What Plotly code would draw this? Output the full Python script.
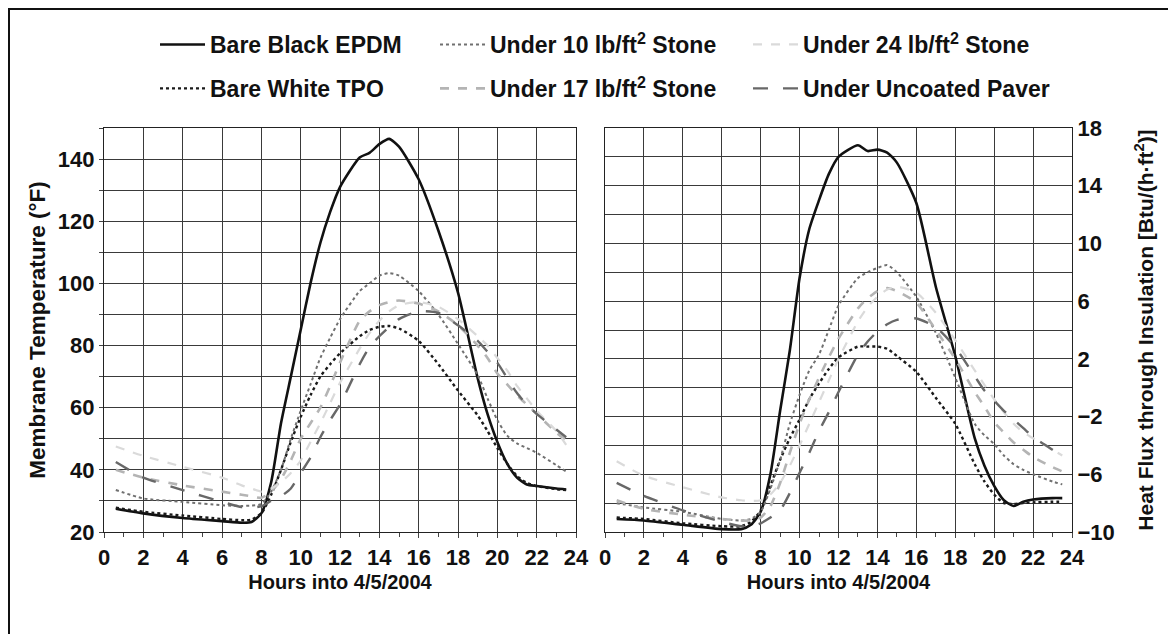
import plotly.graph_objects as go

# ---------------- data ----------------
HOURS = [0.6, 2, 4, 6, 7, 7.5, 8, 8.5, 9, 9.5, 10, 10.5, 11, 11.5, 12, 13, 13.5, 14,
         14.5, 15, 16, 17, 18, 19, 19.5, 20, 20.5, 21, 21.5, 22, 23, 23.5]

SERIES_NAMES = ["Bare Black EPDM", "Bare White TPO", "Under 10 lb/ft<sup>2</sup> Stone",
                "Under 17 lb/ft<sup>2</sup> Stone", "Under 24 lb/ft<sup>2</sup> Stone",
                "Under Uncoated Paver"]

# Membrane temperature (deg F)
temp_epdm = [27.5, 26, 24.5, 23.5, 23, 23.2, 26, 36, 55, 70, 85, 100, 113, 123, 131, 140.5, 142,
             144.8, 146.5, 144, 133.5, 117, 97, 69.5, 58, 49, 42, 37.5, 35.3, 34.8, 34, 33.7]
temp_tpo = [27.8, 26.5, 25.3, 24.2, 23.8, 24, 26, 32, 40, 49, 57, 64, 70, 74, 77.5, 83, 85, 86,
            86.3, 85.5, 81.5, 74, 65.5, 57.5, 52.5, 47, 42, 38, 35.8, 34.8, 33.8, 33.5]
temp_10 = [33.5, 30.8, 29.7, 28.6, 28.4, 28.5, 29, 33, 40, 50, 59, 67.5, 76, 82.5, 88.5, 97.5, 100,
           102.5, 103.3, 102.5, 97.5, 90, 80.5, 70.5, 63, 56, 51, 48.5, 47, 45.5, 41.5, 39.5]
temp_17 = [40, 37.5, 35, 33, 32, 31.5, 31, 33, 37, 43, 50, 55, 60, 67, 74.5, 88, 91, 93, 94, 94.5,
           93.5, 91, 86.5, 80, 76, 71, 67.5, 64, 61, 58, 52, 49.5]
temp_24 = [47.5, 44.5, 41, 37.5, 35, 34, 33, 34, 36, 39, 43, 49, 55, 61.5, 68, 79, 84, 88, 91, 93,
           94, 92.5, 88.5, 83, 80, 76, 72, 67, 63, 59, 52.5, 48]
temp_paver = [42.5, 37.5, 33.5, 29.7, 28, 27.8, 28.3, 30, 31.5, 34, 39, 44, 50.5, 56, 61, 74, 79.5,
              83, 86, 88.5, 91, 90.5, 86.5, 81.5, 78, 74.5, 69.5, 64.7, 61, 58, 53, 50.5]

# Heat flux through insulation (Btu/(h ft2))
flux_epdm = [-9.1, -9.2, -9.5, -9.8, -9.8, -9.5, -8.6, -6, -1.6, 2.6, 7.6, 11, 13, 14.8, 16, 16.8,
             16.4, 16.5, 16.3, 15.6, 12.8, 7, 2.2, -3.5, -5.4, -6.8, -7.8, -8.2, -7.9, -7.75, -7.65, -7.65]
flux_tpo = [-9.0, -9.1, -9.4, -9.6, -9.6, -9.3, -8.5, -6.8, -5, -3.5, -2.2, -0.8, 0.3, 1.3, 2.1, 2.85,
            2.85, 2.85, 2.7, 2.2, 1.1, -0.7, -2.5, -5.3, -6.5, -7.4, -8, -8.05, -8, -7.95, -7.9, -7.9]
flux_10 = [-8.0, -8.3, -8.6, -9.1, -9.2, -9.1, -8.6, -7, -5, -2.5, -0.5, 1.2, 2.3, 4, 5.7, 7.6, 8,
           8.3, 8.5, 8.0, 6.3, 3.8, 0.7, -2.5, -3.3, -3.9, -4.7, -5.3, -5.7, -6, -6.5, -6.7]
flux_17 = [-7.8, -8.4, -8.8, -9.1, -9.2, -9.2, -9.0, -8.2, -6.6, -4.5, -2.5, -0.8, 0.7, 2.1, 3.4, 5.5,
           6.2, 6.7, 6.9, 6.7, 5.9, 4.0, 2.0, -0.3, -1.3, -2.4, -3.1, -3.8, -4.3, -4.8, -5.5, -5.8]
flux_24 = [-5.1, -6.1, -6.9, -7.6, -7.8, -7.85, -7.8, -7.4, -6.6, -5.4, -4, -2.5, -1, 0.5, 2, 4.6,
           5.6, 6.3, 6.8, 7, 6.6, 5.2, 3.3, 1.2, 0.2, -0.8, -1.7, -2.5, -3.1, -3.5, -4.3, -4.7]
flux_paver = [-6.6, -7.5, -8.5, -9.3, -9.6, -9.6, -9.4, -9.0, -8.5, -7.3, -5.9, -4.5, -3, -1.7, -0.3,
              2.3, 3.2, 3.9, 4.4, 4.7, 4.8, 4.2, 2.8, 0.8, -0.2, -0.9, -1.6, -2.2, -2.8, -3.4, -4.3, -4.8]

TEMP = [temp_epdm, temp_tpo, temp_10, temp_17, temp_24, temp_paver]
FLUX = [flux_epdm, flux_tpo, flux_10, flux_17, flux_24, flux_paver]

# small ticks along the left edge of the heat-flux panel
FLUX_SIDE_TICKS = [-9, -7, -5, -3, -1, 1, 3, 5, 7, 9, 11, 13, 15, 17]

# ---------------- styles ----------------
STYLES = [
    dict(color="#111111", width=2.6, dash="solid"),
    dict(color="#1a1a1a", width=2.4, dash="dot"),
    dict(color="#707070", width=2.0, dash="dot"),
    dict(color="#b4b4b4", width=2.6, dash="dash"),
    dict(color="#dadada", width=2.2, dash="dash"),
    dict(color="#686868", width=2.4, dash="longdash"),
]
LEGEND_OF = ["legend", "legend", "legend2", "legend2", "legend3", "legend3"]

FONT = "Liberation Sans, Arial, sans-serif"
GRID = "#3a3a3a"

fig = go.Figure()
for i, name in enumerate(SERIES_NAMES):
    st = STYLES[i]
    line = dict(color=st["color"], width=st["width"], dash=st["dash"], shape="spline", smoothing=0.6)
    fig.add_trace(go.Scatter(x=HOURS, y=TEMP[i], mode="lines", name=name, line=line,
                             xaxis="x", yaxis="y", legend=LEGEND_OF[i], legendgroup=name,
                             showlegend=True))
    fig.add_trace(go.Scatter(x=HOURS, y=FLUX[i], mode="lines", name=name, line=line,
                             xaxis="x2", yaxis="y2", legendgroup=name, showlegend=False))

# figure is placed 8px from the page corner, so all pixel positions are page-8
W, H = 1168, 626
ML, MR, MT, MB = 96, 104, 120, 102
PW = W - ML - MR
PH = H - MT - MB


def px_x(p):
    return (p - ML) / PW


def px_y(p):
    return (H - MB - p) / PH


tickfont = dict(family=FONT, size=22, color="#111", weight="bold")
xtitlefont = dict(family=FONT, size=20, color="#111", weight="bold")
ytitlefont = dict(family=FONT, size=22.5, color="#111", weight="bold")

xcommon = dict(range=[0, 24], tick0=0, dtick=2, showgrid=True, gridcolor=GRID, gridwidth=1,
               showline=True, linecolor="#222", linewidth=1.2, mirror=True,
               ticks="outside", ticklen=5, tickcolor="#444", tickfont=tickfont,
               minor=dict(dtick=1, ticks="outside", ticklen=4, tickcolor="#444", showgrid=False),
               zeroline=False, automargin=False,
               title=dict(text="Hours into 4/5/2004", font=xtitlefont, standoff=6))

fig.update_layout(
    width=W, height=H,
    margin=dict(l=ML, r=MR, t=MT, b=MB),
    paper_bgcolor="white", plot_bgcolor="white",
    font=dict(family=FONT, color="#111"),
    xaxis=dict(domain=[0, px_x(568)], anchor="y", **xcommon),
    xaxis2=dict(domain=[px_x(597), 1], anchor="y2", **xcommon),
    yaxis=dict(domain=[0, 1], anchor="x", range=[20, 150], tick0=20, dtick=20,
               showgrid=True, gridcolor=GRID, gridwidth=1, zeroline=False, automargin=False,
               showline=True, linecolor="#222", linewidth=1.2, mirror=True,
               ticks="outside", ticklen=4, tickcolor="#444", tickfont=tickfont,
               minor=dict(dtick=10, showgrid=True, gridcolor=GRID, gridwidth=1,
                          ticks="outside", ticklen=4, tickcolor="#444"),
               title=dict(text="Membrane Temperature (°F)", font=ytitlefont, standoff=5)),
    yaxis2=dict(domain=[0, 1], anchor="x2", side="right", range=[-10, 18], tick0=-10, dtick=4,
                showgrid=True, gridcolor=GRID, gridwidth=1, zeroline=False, automargin=False,
                showline=True, linecolor="#222", linewidth=1.2, mirror=True,
                ticks="", tickfont=tickfont,
                minor=dict(dtick=2, showgrid=True, gridcolor=GRID, gridwidth=1),
                title=dict(text="Heat Flux through Insulation [Btu/(h·ft<sup>2</sup>)]",
                           font=dict(family=FONT, size=21, color="#111", weight="bold"),
                           standoff=24)),
    yaxis3=dict(overlaying="y2", anchor="x2", side="left", range=[-10, 18],
                tickvals=FLUX_SIDE_TICKS, showticklabels=False, ticks="outside", ticklen=4,
                tickcolor="#444", showgrid=False, zeroline=False, showline=False,
                automargin=False),
    showlegend=True,
)

legend_common = dict(orientation="v", xanchor="left", yanchor="top", bgcolor="rgba(0,0,0,0)",
                     borderwidth=0, tracegroupgap=11, itemwidth=45,
                     font=dict(family=FONT, size=23, color="#111", weight="bold"))
fig.update_layout(
    legend=dict(x=px_x(147), y=px_y(15), **legend_common),
    legend2=dict(x=px_x(427), y=px_y(15), **legend_common),
    legend3=dict(x=px_x(740), y=px_y(15), **legend_common),
)

# outer frame
fig.add_shape(type="rect", xref="paper", yref="paper",
              x0=px_x(1), x1=px_x(W + 6), y0=px_y(H + 6), y1=px_y(1),
              line=dict(color="#111", width=2), fillcolor="rgba(0,0,0,0)", layer="below")

fig.write_html("out.html")
